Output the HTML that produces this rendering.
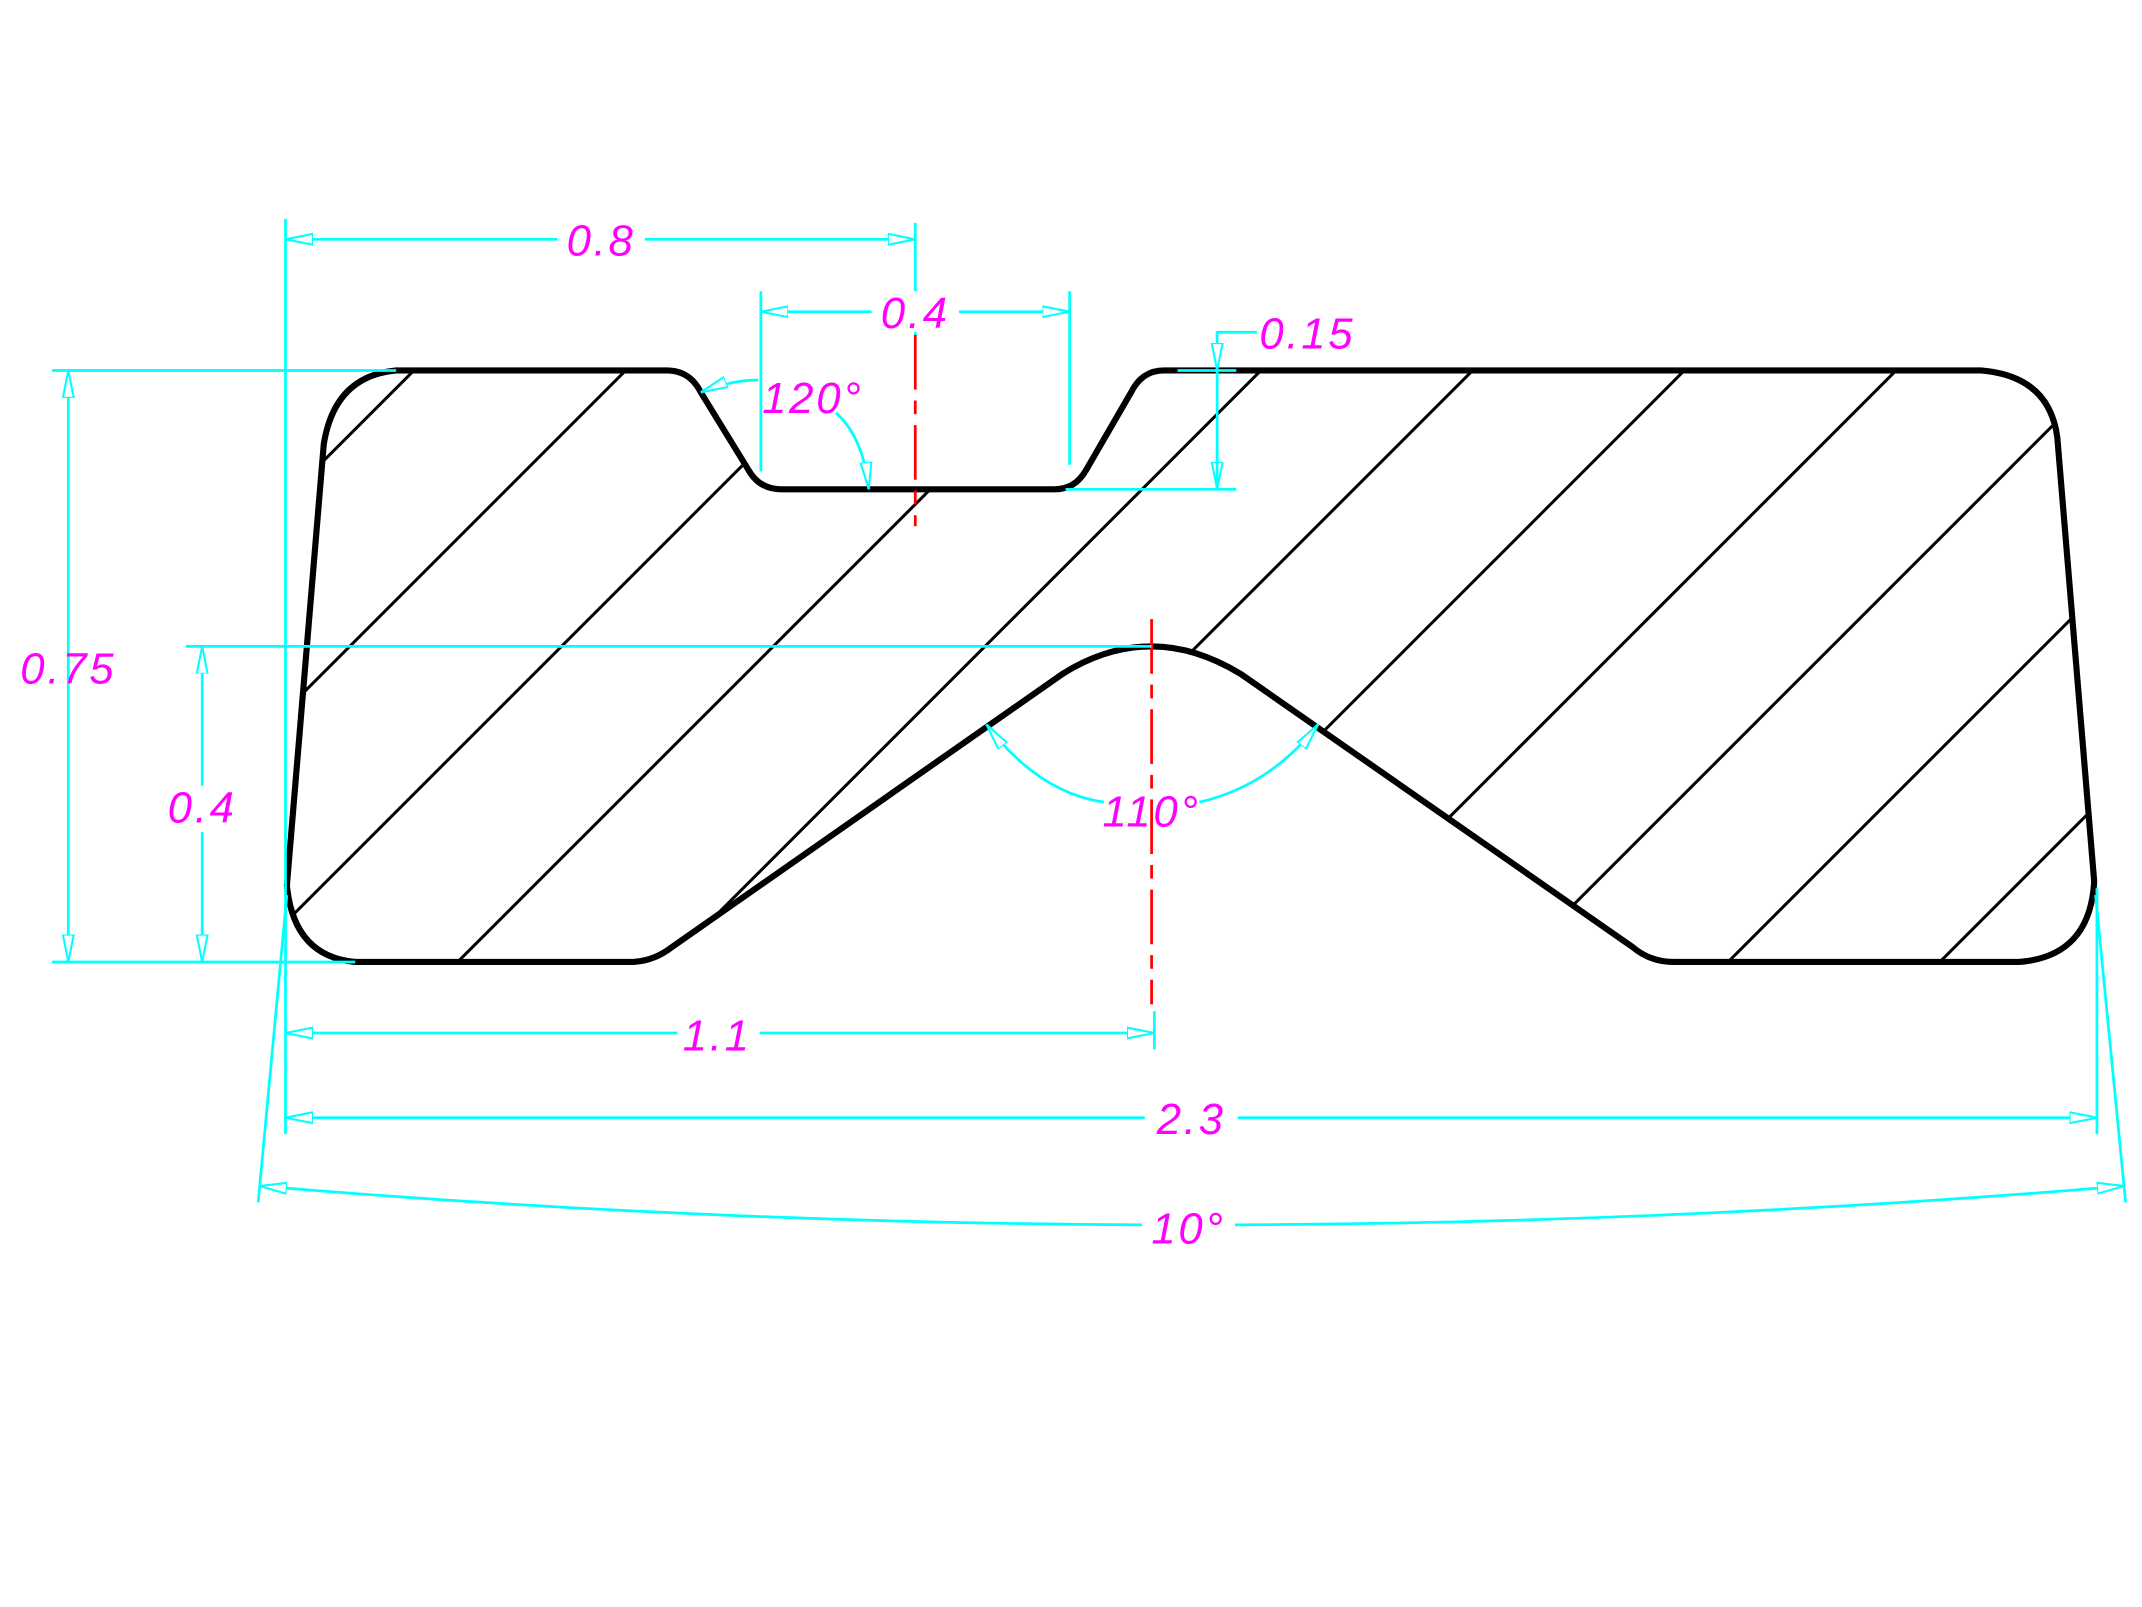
<!DOCTYPE html>
<html><head><meta charset="utf-8"><style>
html,body{margin:0;padding:0;background:#fff;width:2142px;height:1607px;overflow:hidden;}
svg{display:block;}
text{font-family:"Liberation Sans",sans-serif;font-style:italic;fill:#ff00ff;font-size:32px;letter-spacing:2px;text-anchor:middle;}
</style></head><body>
<svg width="2142" height="1607" viewBox="0 0 1568 1176" xmlns="http://www.w3.org/2000/svg">
<defs>
<marker id="a" viewBox="0 0 20 10" refX="20" refY="5" markerWidth="20" markerHeight="10" markerUnits="userSpaceOnUse" orient="auto-start-reverse">
<path d="M0,1 L20,5 L0,9 Z" fill="#fff" stroke="#00ffff" stroke-width="1.5"/>
</marker>
<clipPath id="c"><path id="op" d="M290,271 L488,271 Q505,271 513,287 L548,344 Q556,358 572,358 L772,358 Q787,358 795,344 L828,287 Q836,271 852,271 L1450,271 Q1500,275 1506,320 L1533,645 Q1530,700 1478,704 L1225,704 Q1208,704 1195,693 L908,493 Q875,473 843,473 Q810,473 778,493 L492,693 Q478,704 461,704 L260,704 Q215,700 210,648 L237,325 Q245,275 290,271 Z"/></clipPath>
</defs>
<g clip-path="url(#c)" stroke="#000" stroke-width="2.2">
<line x1="0" y1="574" x2="574" y2="0"/>
<line x1="0" y1="729" x2="729" y2="0"/>
<line x1="0" y1="884" x2="884" y2="0"/>
<line x1="0" y1="1039" x2="1039" y2="0"/>
<line x1="0" y1="1194" x2="1194" y2="0"/>
<line x1="0" y1="1349" x2="1349" y2="0"/>
<line x1="0" y1="1504" x2="1504" y2="0"/>
<line x1="0" y1="1659" x2="1659" y2="0"/>
<line x1="0" y1="1814" x2="1814" y2="0"/>
<line x1="0" y1="1969" x2="1969" y2="0"/>
<line x1="0" y1="2124" x2="2124" y2="0"/>
<line x1="0" y1="2279" x2="2279" y2="0"/>
</g>
<use href="#op" fill="none" stroke="#000" stroke-width="4.5"/>
<g stroke="#ff0000" stroke-width="2" stroke-dasharray="40,8,10,8">
<line x1="670" y1="245" x2="670" y2="385"/>
<line x1="843" y1="453" x2="843" y2="735"/>
</g>
<g stroke="#00ffff" stroke-width="2" fill="none">
<line x1="209" y1="160" x2="209" y2="830"/>
<line x1="670" y1="163" x2="670" y2="245"/>
<line x1="209" y1="175" x2="670" y2="175" marker-start="url(#a)" marker-end="url(#a)"/>
<line x1="557" y1="213" x2="557" y2="345"/>
<line x1="783" y1="213" x2="783" y2="340"/>
<line x1="557" y1="228" x2="783" y2="228" marker-start="url(#a)" marker-end="url(#a)"/>
<line x1="862" y1="271" x2="905" y2="271"/>
<line x1="780" y1="358" x2="905" y2="358"/>
<polyline points="920,243 891,243 891,271"/>
<line x1="891" y1="243" x2="891" y2="271" marker-end="url(#a)"/>
<line x1="891" y1="330" x2="891" y2="358" marker-end="url(#a)"/>
<line x1="891" y1="271" x2="891" y2="358"/>
<path d="M555,278 Q535,278 513,287" marker-end="url(#a)"/>
<path d="M612,302 Q632,320 636,358" marker-end="url(#a)"/>
<line x1="38" y1="271" x2="290" y2="271"/>
<line x1="38" y1="704" x2="260" y2="704"/>
<line x1="50" y1="271" x2="50" y2="704" marker-start="url(#a)" marker-end="url(#a)"/>
<line x1="136" y1="473" x2="843" y2="473"/>
<line x1="148" y1="473" x2="148" y2="704" marker-start="url(#a)" marker-end="url(#a)"/>
<path d="M808,587 Q760,580 722,530" marker-end="url(#a)"/>
<path d="M878,587 Q930,575 965,530" marker-end="url(#a)"/>
<line x1="845" y1="740" x2="845" y2="768"/>
<line x1="209" y1="756" x2="845" y2="756" marker-start="url(#a)" marker-end="url(#a)"/>
<line x1="1535" y1="650" x2="1535" y2="830"/>
<line x1="209" y1="818" x2="1535" y2="818" marker-start="url(#a)" marker-end="url(#a)"/>
<line x1="210" y1="655" x2="189" y2="880"/>
<line x1="1534" y1="655" x2="1556" y2="880"/>
<path d="M190,868 Q872,925 1555,868" marker-start="url(#a)" marker-end="url(#a)"/>
</g>
<g>
<rect x="408" y="160" width="64" height="30" fill="#fff"/>
<text x="440" y="187">0.8</text>
<rect x="638" y="213" width="64" height="30" fill="#fff"/>
<text x="670" y="240">0.4</text>
<text x="957" y="255">0.15</text>
<text x="595" y="302">120°</text>
<text x="50" y="500">0.75</text>
<rect x="116" y="575" width="64" height="34" fill="#fff"/>
<text x="148" y="602">0.4</text>
<text x="843" y="605">110°</text>
<rect x="496" y="742" width="60" height="30" fill="#fff"/>
<text x="525" y="769">1.1</text>
<rect x="838" y="805" width="68" height="30" fill="#fff"/>
<text x="872" y="830">2.3</text>
<rect x="836" y="885" width="68" height="30" fill="#fff"/>
<text x="870" y="910">10°</text>
</g>
</svg>
</body></html>
